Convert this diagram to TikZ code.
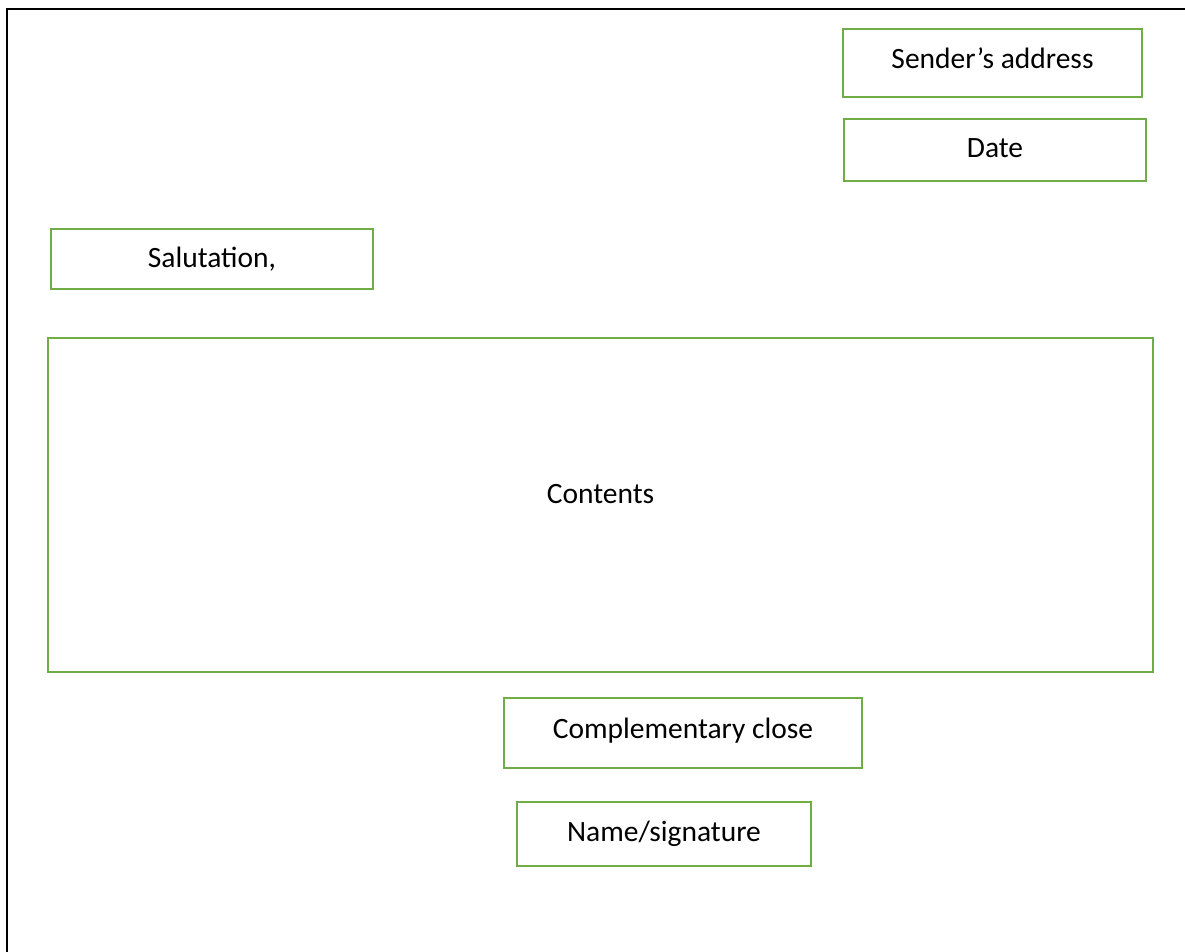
\documentclass[tikz,border=0pt]{standalone}
\usepackage{fontspec}
\setmainfont{Carlito}
\usepackage{xcolor}
\usetikzlibrary{positioning}

\definecolor{boxgreen}{HTML}{70AD47}

\begin{document}
\begin{tikzpicture}[
  x=1pt, y=-1pt,
  part/.style={rectangle, draw=boxgreen, line width=2.4pt, inner sep=0pt,
               font=\fontsize{29.5}{34}\selectfont, align=center},
  page/.style={draw=black, line width=2.8pt}
]
\useasboundingbox (0,0) rectangle (1185,952);
\clip (0,0) rectangle (1185,952);

% page frame (runs off the right and bottom)
\draw[page] (7,9) rectangle (1230,1000);

% heading
\node[part, minimum width=299pt, minimum height=68pt, text depth=10pt] (sender) at (992.5,63) {Sender’s address};
\node[part, minimum width=302pt, minimum height=62pt, text depth=4pt]  (date)   at (995,150)  {Date};

% salutation + body
\node[part, minimum width=322pt, minimum height=60pt]                   (salut)    at (212,259)   {Salutation,};
\node[part, minimum width=1105pt, minimum height=334pt, text depth=22pt] (contents) at (600.5,505) {Contents};

% closing
\node[part, minimum width=358pt, minimum height=70pt, text depth=10pt] (close) at (683,733) {Complementary close};
\node[part, minimum width=294pt, minimum height=64pt]                  (name)  at (664,834) {Name/signature};

\end{tikzpicture}
\end{document}
